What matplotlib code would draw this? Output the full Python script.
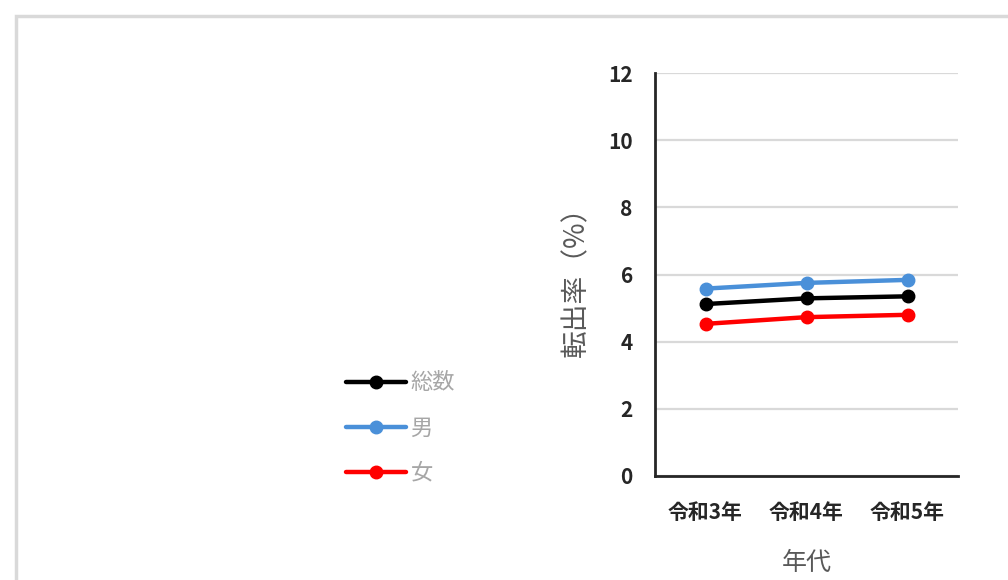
import matplotlib.pyplot as plt
from matplotlib.patches import Rectangle

plt.rcParams['font.family'] = ['Noto Sans CJK JP', 'DejaVu Sans']

years = ['令和3年', '令和4年', '令和5年']
total = [5.12, 5.29, 5.35]
male = [5.58, 5.75, 5.84]
female = [4.53, 4.73, 4.80]
labels = ['総数', '男', '女']
colors = ['#000000', '#4a90d9', '#ff0000']
yticks = [0, 2, 4, 6, 8, 10, 12]

fig = plt.figure(figsize=(10.08, 5.8), dpi=100, facecolor='white')
# light frame around the chart area
fig.patches.append(Rectangle((16 / 1008, -0.1), 1.1, 1 - 16 / 580 + 0.1,
                             transform=fig.transFigure, fill=False,
                             edgecolor='#d9d9d9', linewidth=2.5))

ax = fig.add_axes([655 / 1008, 1 - 476 / 580, 303 / 1008, 403 / 580])

x = range(len(years))
for vals, lab, col in zip([total, male, female], labels, colors):
    ax.plot(x, vals, color=col, linewidth=3.2, marker='o', markersize=9,
            label=lab, solid_capstyle='round')

ax.set_xlim(-0.5, 2.5)
ax.set_ylim(0, 12)
ax.set_yticks(yticks)
ax.set_xticks(list(x))
ax.set_xticklabels(years)
ax.grid(axis='y', color='#d9d9d9', linewidth=1.6)
ax.set_axisbelow(True)
for s in ['top', 'right']:
    ax.spines[s].set_visible(False)
for s in ['left', 'bottom']:
    ax.spines[s].set_color('#262626')
    ax.spines[s].set_linewidth(2)
ax.tick_params(length=0, labelsize=15, labelcolor='#262626')
for t in ax.get_xticklabels() + ax.get_yticklabels():
    t.set_fontweight('bold')
ax.tick_params(axis='y', pad=16)
ax.tick_params(axis='x', pad=19)

ax.set_ylabel('転出率（%）', fontsize=20, color='#595959', labelpad=12)
ax.set_xlabel('年代', fontsize=18, color='#595959', labelpad=19)

leg = ax.legend(loc='center left', bbox_to_anchor=(326 / 1008, 1 - 428 / 580),
                bbox_transform=fig.transFigure, frameon=False, fontsize=16,
                handlelength=2.7, handletextpad=0.2, labelspacing=1.0)
for t in leg.get_texts():
    t.set_color('#a6a6a6')

fig.savefig('out.png', dpi=100, facecolor='white')
